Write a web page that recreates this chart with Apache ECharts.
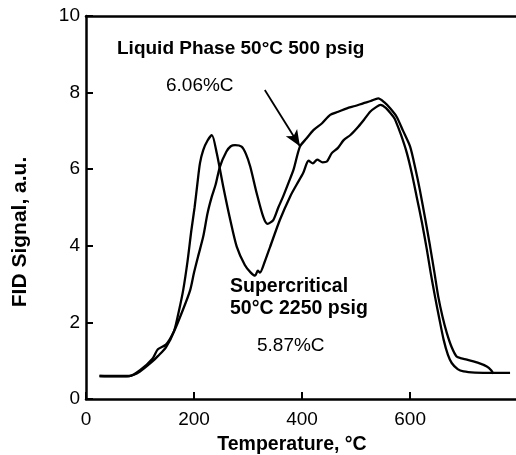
<!DOCTYPE html>
<html>
<head>
<meta charset="utf-8">
<script src="https://cdn.jsdelivr.net/npm/echarts@6/dist/echarts.min.js"></script>
<style>
html,body{margin:0;padding:0;background:#fff;}
#chart{width:516px;height:455px;}
</style>
</head>
<body>
<div id="chart"></div>
<script>
// Supercritical 50°C 2250 psig (5.87%C)
var superX = [25, 50, 80, 100, 123, 133, 148, 163, 172, 180, 188, 195, 201, 206, 211, 217, 225, 233, 242, 254, 267, 279, 294, 305, 313, 318, 322, 330, 341, 359, 378, 390, 402, 412, 420, 428, 438, 446, 455, 466, 477, 490, 504, 515, 526, 537, 545, 555, 569, 572, 583, 594, 603, 612, 622, 631, 638, 646, 654, 662, 670, 677, 688, 699, 720, 754, 785];
var superY = [0.60, 0.59, 0.60, 0.72, 0.98, 1.12, 1.35, 1.77, 2.30, 2.85, 3.60, 4.40, 5.00, 5.60, 6.16, 6.50, 6.75, 6.89, 6.42, 5.55, 4.68, 3.98, 3.50, 3.30, 3.22, 3.35, 3.30, 3.55, 3.98, 4.68, 5.29, 5.60, 5.90, 6.22, 6.15, 6.25, 6.18, 6.20, 6.42, 6.55, 6.76, 6.90, 7.11, 7.30, 7.50, 7.62, 7.68, 7.60, 7.37, 7.30, 6.90, 6.42, 5.90, 5.29, 4.60, 3.90, 3.30, 2.68, 2.10, 1.55, 1.15, 0.94, 0.78, 0.72, 0.69, 0.68, 0.68];
// Liquid Phase 50°C 500 psig (6.06%C)
var liquidX = [25, 50, 80, 100, 123, 133, 148, 163, 180, 193, 200, 208, 217, 225, 233, 240, 248, 260, 268, 276, 288, 296, 304, 316, 328, 336, 347, 356, 365, 375, 384, 396, 408, 421, 437, 452, 467, 483, 498, 513, 527, 541, 552, 563, 575, 587, 600, 610, 618, 628, 637, 645, 652, 660, 668, 677, 686, 695, 705, 725, 742, 750, 754];
var liquidY = [0.60, 0.60, 0.60, 0.75, 1.05, 1.30, 1.42, 1.77, 2.35, 2.85, 3.30, 3.75, 4.24, 4.85, 5.29, 5.60, 6.07, 6.46, 6.60, 6.63, 6.59, 6.40, 6.07, 5.37, 4.76, 4.57, 4.68, 5.00, 5.29, 5.65, 5.98, 6.59, 6.80, 7.02, 7.20, 7.42, 7.50, 7.59, 7.65, 7.72, 7.78, 7.85, 7.75, 7.59, 7.37, 7.00, 6.59, 6.00, 5.46, 4.70, 3.98, 3.30, 2.68, 2.15, 1.72, 1.35, 1.11, 1.06, 1.03, 0.95, 0.85, 0.75, 0.66];
// Arrow annotation (data coordinates): tail and head
var arrowFrom = [331, 8.07];
var arrowTo = [396, 6.6];
// Axis ticks
var xTicks = [0, 200, 400, 600];
var yTicks = [0, 2, 4, 6, 8, 10];

function pairs(xs, ys) { return xs.map(function (x, i) { return [x, ys[i]]; }); }

var FONT = '"Liberation Sans", Arial, sans-serif';
var chart = echarts.init(document.getElementById('chart'), null, {renderer: 'canvas'});
chart.setOption({
  backgroundColor: '#fff',
  animation: false,
  grid: {left: 86, right: 0, top: 16, bottom: 56, show: false},
  xAxis: [{
    type: 'value', min: 0, max: 796, interval: 200, position: 'bottom',
    axisLine: {show: true, onZero: false, lineStyle: {color: '#000', width: 2.5}},
    axisTick: {show: true, inside: true, length: 7, lineStyle: {color: '#000', width: 2}},
    axisLabel: {color: '#000', fontSize: 19, fontFamily: FONT, margin: 11, showMaxLabel: false,
      formatter: function (v) { return xTicks.indexOf(v) >= 0 ? String(v) : ''; }},
    splitLine: {show: false}
  }, {
    type: 'value', min: 0, max: 796, interval: 200, position: 'top',
    axisLine: {show: true, onZero: false, lineStyle: {color: '#000', width: 2.5}},
    axisTick: {show: false}, axisLabel: {show: false}, splitLine: {show: false}
  }],
  yAxis: {
    type: 'value', min: 0, max: 10, interval: 2,
    axisLine: {show: true, onZero: false, lineStyle: {color: '#000', width: 2.5}},
    axisTick: {show: true, inside: true, length: 7, lineStyle: {color: '#000', width: 2}},
    axisLabel: {color: '#000', fontSize: 19, fontFamily: FONT, margin: 6,
      formatter: function (v) { return yTicks.indexOf(v) >= 0 ? String(v) : ''; }},
    splitLine: {show: false}
  },
  series: [
    {name: 'Supercritical 50°C 2250 psig', type: 'line', xAxisIndex: 0, data: pairs(superX, superY), showSymbol: false, symbol: 'none', smooth: 0.25,
      lineStyle: {color: '#000', width: 2.3}},
    {name: 'Liquid Phase 50°C 500 psig', type: 'line', xAxisIndex: 0, data: pairs(liquidX, liquidY), showSymbol: false, symbol: 'none', smooth: 0.25,
      lineStyle: {color: '#000', width: 2.3},
      markLine: {silent: true, symbol: ['none', 'arrow'], symbolSize: [10, 16], label: {show: false},
        lineStyle: {color: '#000', width: 1.8, type: 'solid'},
        data: [[{coord: arrowFrom}, {coord: arrowTo}]]}}
  ],
  graphic: [
    {type: 'text', left: 117, top: 39, style: {text: 'Liquid Phase 50°C 500 psig', font: 'bold 19px ' + FONT, fill: '#000'}},
    {type: 'text', left: 166, top: 76, style: {text: '6.06%C', font: '19px ' + FONT, fill: '#000'}},
    {type: 'text', left: 230, top: 277, style: {text: 'Supercritical', font: 'bold 19.5px ' + FONT, fill: '#000'}},
    {type: 'text', left: 230, top: 299, style: {text: '50°C 2250 psig', font: 'bold 19.5px ' + FONT, fill: '#000'}},
    {type: 'text', left: 257, top: 336, style: {text: '5.87%C', font: '19px ' + FONT, fill: '#000'}},
    {type: 'text', x: 292, y: 445, style: {text: 'Temperature, °C', font: 'bold 19.5px ' + FONT, fill: '#000', align: 'center', verticalAlign: 'middle'}},
    {type: 'text', x: 20, y: 232, rotation: Math.PI / 2, style: {text: 'FID Signal, a.u.', font: 'bold 21px ' + FONT, fill: '#000', align: 'center', verticalAlign: 'middle'}}
  ]
});
</script>
</body>
</html>
